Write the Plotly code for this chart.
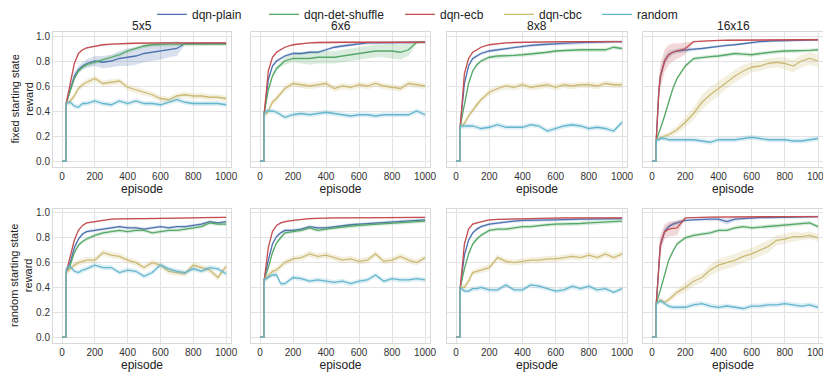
import numpy as np
import plotly.graph_objects as go

EPISODES = [0, 24, 25, 40, 50, 75, 100, 125, 150, 200, 250, 300, 350, 400, 450, 500,
            550, 600, 650, 700, 750, 800, 850, 900, 950, 1000]

SERIES = ["dqn-plain", "dqn-det-shuffle", "dqn-ecb", "dqn-cbc", "random"]
BOARDS = ["5x5", "6x6", "8x8", "16x16"]
ROW_LABELS = ["fixed starting state<br>reward", "random starting state<br>reward"]
X_TICKS = [0, 200, 400, 600, 800, 1000]
Y_TICKS = [0.0, 0.2, 0.4, 0.6, 0.8, 1.0]

# mean reward per episode
FIXED_5X5 = {
    "dqn-plain": [0, 0, .46, .53, .58, .68, .73, .76, .78, .80, .79, .80, .82, .83, .84, .86, .87, .88, .89, .90, .94, .94, .94, .94, .94, .94],
    "dqn-det-shuffle": [0, 0, .46, .52, .56, .66, .72, .75, .77, .79, .81, .83, .85, .88, .90, .92, .93, .935, .935, .935, .935, .935, .935, .935, .935, .935],
    "dqn-ecb": [0, 0, .46, .56, .62, .78, .86, .89, .905, .92, .93, .935, .94, .94, .942, .945, .945, .945, .945, .945, .945, .945, .945, .945, .945, .945],
    "dqn-cbc": [0, 0, .46, .47, .48, .52, .58, .61, .63, .66, .62, .63, .64, .59, .57, .55, .53, .50, .49, .52, .53, .52, .52, .51, .51, .50],
    "random": [0, 0, .46, .47, .47, .44, .43, .46, .46, .48, .46, .45, .48, .46, .48, .46, .46, .45, .47, .49, .47, .46, .46, .46, .46, .45],
}
FIXED_6X6 = {
    "dqn-plain": [0, 0, .38, .55, .65, .76, .80, .82, .84, .86, .86, .87, .87, .89, .91, .92, .93, .94, .945, .945, .945, .945, .947, .948, .95, .95],
    "dqn-det-shuffle": [0, 0, .38, .50, .57, .68, .74, .77, .80, .82, .82, .82, .83, .83, .83, .84, .85, .86, .87, .88, .88, .88, .87, .89, .95, .95],
    "dqn-ecb": [0, 0, .38, .60, .72, .83, .87, .89, .91, .93, .94, .945, .948, .95, .95, .95, .95, .95, .95, .95, .95, .95, .95, .95, .95, .95],
    "dqn-cbc": [0, 0, .37, .38, .40, .47, .50, .54, .58, .62, .61, .60, .61, .62, .58, .60, .59, .61, .60, .62, .60, .59, .58, .62, .61, .60],
    "random": [0, 0, .38, .40, .40, .40, .39, .37, .35, .37, .38, .37, .38, .39, .38, .37, .36, .37, .37, .36, .37, .37, .37, .37, .40, .37],
}
FIXED_8X8 = {
    "dqn-plain": [0, 0, .28, .52, .62, .76, .82, .84, .86, .88, .89, .90, .91, .92, .925, .93, .935, .94, .943, .945, .947, .95, .952, .953, .955, .955],
    "dqn-det-shuffle": [0, 0, .28, .38, .46, .62, .72, .77, .80, .83, .84, .84, .845, .85, .855, .86, .87, .88, .885, .89, .89, .89, .89, .89, .91, .90],
    "dqn-ecb": [0, 0, .28, .58, .70, .82, .87, .89, .91, .93, .94, .945, .948, .95, .952, .953, .955, .955, .955, .955, .955, .955, .955, .955, .955, .955],
    "dqn-cbc": [0, 0, .28, .29, .30, .36, .41, .45, .49, .55, .58, .60, .59, .61, .59, .60, .61, .59, .61, .60, .61, .61, .60, .62, .61, .61],
    "random": [0, 0, .28, .28, .28, .28, .28, .27, .26, .27, .29, .27, .27, .27, .29, .28, .24, .26, .28, .29, .28, .26, .27, .26, .24, .31],
}
FIXED_16X16 = {
    "dqn-plain": [0, 0, .17, .55, .68, .80, .85, .87, .88, .89, .895, .90, .91, .92, .925, .93, .94, .95, .955, .96, .962, .965, .967, .968, .97, .97],
    "dqn-det-shuffle": [0, 0, .17, .22, .26, .36, .48, .58, .66, .76, .82, .83, .835, .84, .85, .86, .855, .85, .86, .87, .875, .88, .88, .88, .885, .89],
    "dqn-ecb": [0, 0, .17, .55, .68, .80, .85, .87, .88, .90, .955, .96, .962, .965, .966, .967, .968, .97, .97, .97, .97, .97, .97, .97, .97, .97],
    "dqn-cbc": [0, 0, .17, .18, .19, .20, .21, .23, .25, .31, .38, .47, .53, .58, .63, .68, .72, .75, .76, .78, .79, .78, .76, .80, .82, .80],
    "random": [0, 0, .17, .17, .18, .18, .17, .17, .17, .17, .17, .16, .15, .17, .17, .17, .18, .19, .18, .17, .17, .17, .16, .16, .17, .18],
}
RANDOM_5X5 = {
    "dqn-plain": [0, 0, .52, .56, .60, .72, .79, .83, .85, .86, .87, .88, .89, .88, .88, .87, .88, .89, .88, .89, .89, .90, .91, .93, .92, .93],
    "dqn-det-shuffle": [0, 0, .52, .55, .58, .68, .74, .77, .79, .82, .84, .85, .86, .85, .86, .86, .84, .85, .86, .86, .87, .88, .89, .92, .91, .91],
    "dqn-ecb": [0, 0, .52, .60, .65, .78, .86, .90, .92, .93, .94, .95, .952, .955, .955, .955, .955, .955, .957, .958, .96, .96, .962, .963, .965, .965],
    "dqn-cbc": [0, 0, .52, .54, .55, .58, .60, .61, .62, .62, .68, .66, .65, .62, .60, .56, .60, .58, .53, .52, .51, .58, .56, .54, .48, .57],
    "random": [0, 0, .55, .57, .57, .53, .52, .54, .55, .58, .56, .56, .52, .54, .53, .49, .52, .58, .55, .53, .52, .55, .53, .56, .55, .51],
}
RANDOM_6X6 = {
    "dqn-plain": [0, 0, .46, .56, .62, .75, .81, .84, .86, .86, .87, .89, .88, .88, .89, .90, .905, .91, .915, .92, .925, .93, .935, .94, .942, .945],
    "dqn-det-shuffle": [0, 0, .46, .52, .56, .68, .76, .80, .84, .85, .86, .88, .86, .87, .88, .89, .895, .90, .905, .91, .915, .92, .925, .93, .932, .935],
    "dqn-ecb": [0, 0, .46, .62, .72, .85, .90, .92, .93, .94, .95, .955, .957, .96, .96, .96, .96, .96, .961, .962, .963, .963, .964, .965, .965, .965],
    "dqn-cbc": [0, 0, .46, .48, .50, .53, .54, .57, .60, .63, .64, .67, .65, .66, .64, .62, .63, .61, .62, .67, .61, .62, .65, .62, .60, .64],
    "random": [0, 0, .46, .47, .48, .50, .50, .43, .43, .48, .47, .45, .46, .45, .44, .45, .43, .45, .46, .50, .45, .47, .46, .46, .47, .46],
}
RANDOM_8X8 = {
    "dqn-plain": [0, 0, .40, .58, .66, .78, .84, .87, .89, .91, .92, .93, .935, .94, .94, .94, .943, .945, .947, .95, .95, .95, .952, .953, .955, .955],
    "dqn-det-shuffle": [0, 0, .40, .50, .55, .67, .75, .79, .82, .86, .87, .87, .88, .89, .89, .90, .905, .91, .91, .91, .915, .92, .925, .93, .932, .935],
    "dqn-ecb": [0, 0, .40, .64, .75, .87, .91, .92, .93, .945, .948, .95, .952, .955, .957, .958, .96, .96, .96, .96, .96, .96, .96, .96, .96, .96],
    "dqn-cbc": [0, 0, .40, .40, .40, .45, .52, .53, .54, .56, .64, .61, .60, .61, .62, .62, .63, .63, .64, .65, .64, .66, .64, .67, .64, .67],
    "random": [0, 0, .40, .38, .37, .37, .39, .39, .40, .38, .38, .42, .38, .38, .42, .41, .39, .37, .38, .41, .39, .41, .38, .39, .36, .39],
}
RANDOM_16X16 = {
    "dqn-plain": [0, 0, .27, .60, .74, .85, .89, .91, .92, .94, .945, .95, .95, .95, .93, .95, .955, .96, .962, .963, .964, .965, .967, .968, .97, .97],
    "dqn-det-shuffle": [0, 0, .27, .33, .38, .50, .62, .69, .75, .80, .82, .83, .84, .86, .86, .88, .89, .88, .885, .89, .895, .90, .905, .91, .92, .89],
    "dqn-ecb": [0, 0, .27, .60, .75, .85, .87, .875, .88, .96, .965, .965, .967, .968, .97, .97, .97, .97, .97, .97, .97, .97, .97, .97, .97, .97],
    "dqn-cbc": [0, 0, .27, .29, .30, .28, .30, .33, .36, .40, .45, .48, .54, .58, .60, .62, .65, .67, .70, .73, .78, .79, .81, .81, .82, .80],
    "random": [0, 0, .27, .28, .29, .27, .25, .24, .24, .24, .26, .27, .25, .24, .25, .24, .23, .25, .25, .26, .26, .27, .26, .25, .26, .24],
}
PANELS = [FIXED_5X5, FIXED_6X6, FIXED_8X8, FIXED_16X16,
          RANDOM_5X5, RANDOM_6X6, RANDOM_8X8, RANDOM_16X16]

# half width of the shaded band (typical spread per method)
SPREAD = {"dqn-plain": .012, "dqn-det-shuffle": .015, "dqn-ecb": .006, "dqn-cbc": .025, "random": .02}
# wider bands where the runs disagree a lot (panel index, method)
BAND_OVERRIDES = {
    (0, "dqn-plain"): [0, 0, 0, .02, .02, .03, .03, .03, .035, .04, .05, .05, .06, .07, .07, .07, .07, .07, .06, .06, .005, .005, .005, .005, .005, .005],
    (1, "dqn-det-shuffle"): [0, 0, 0, .02, .02, .02, .02, .02, .03, .03, .04, .05, .05, .05, .05, .05, .05, .05, .05, .05, .05, .06, .06, .05, .01, .01],
    (3, "dqn-plain"): [0, 0, 0, .06, .05, .04, .03, .02, .02, .02, .01, .01, .01, .01, .01, .01, .01, .01, .01, .01, .01, .01, .01, .01, .01, .01],
    (3, "dqn-ecb"): [0, 0, 0, .1, .1, .09, .08, .07, .06, .05, .005, .005, .005, .005, .005, .005, .005, .005, .005, .005, .005, .005, .005, .005, .005, .005],
    (3, "dqn-cbc"): [0, 0, 0, .02, .02, .02, .02, .03, .03, .04, .05, .06, .06, .06, .05, .05, .05, .04, .04, .04, .04, .05, .05, .05, .05, .05],
    (7, "dqn-plain"): [0, 0, 0, .05, .04, .03, .02, .02, .02, .01, .01, .01, .01, .015, .025, .015, .01, .01, .01, .01, .01, .01, .01, .01, .01, .01],
    (7, "dqn-ecb"): [0, 0, 0, .08, .07, .06, .06, .06, .06, .005, .005, .005, .005, .005, .005, .005, .005, .005, .005, .005, .005, .005, .005, .005, .005, .005],
    (7, "dqn-cbc"): [0, 0, 0, .02, .02, .02, .02, .03, .03, .04, .04, .04, .045, .05, .05, .05, .05, .05, .05, .05, .04, .04, .04, .03, .03, .03],
}

COLORS = {
    "dqn-plain": "#4C72B0",
    "dqn-det-shuffle": "#55A868",
    "dqn-ecb": "#C44E52",
    "dqn-cbc": "#CCB974",
    "random": "#64B5CD",
}

# the page body keeps its 8px default margin, so the figure starts at (8, 8)
OFF = 8
W, H = 831 - OFF, 378 - OFF
COL_PX = [(53, 231), (251, 430), (447, 627), (643, 823)]
ROW_PX = [(32, 167), (209, 343)]
# where each legend label starts on the page
LEGEND_TEXT_PX = [188, 300, 436, 535, 633]


def px_x(v):
    return (v - OFF) / W


def px_y(v):
    return 1 - (v - OFF) / H


def rgba(hex_color, alpha):
    h = hex_color.lstrip("#")
    r, g, b = (int(h[i:i + 2], 16) for i in (0, 2, 4))
    return f"rgba({r},{g},{b},{alpha})"


def band_for(panel_idx, name, x):
    if (panel_idx, name) in BAND_OVERRIDES:
        return np.asarray(BAND_OVERRIDES[(panel_idx, name)], dtype=float)
    return np.where(x < 25, 0.0, SPREAD[name])


def legend_key(k):
    return "legend" if k == 0 else f"legend{k + 1}"


fig = go.Figure()
x = np.asarray(EPISODES, dtype=float)

for i, panel in enumerate(PANELS):
    ax = "" if i == 0 else str(i + 1)
    for k, name in enumerate(SERIES):
        y = np.asarray(panel[name], dtype=float)
        half = band_for(i, name, x)
        lo, hi = y - half, y + half
        fig.add_trace(go.Scatter(
            x=np.concatenate([x, x[::-1]]), y=np.concatenate([hi, lo[::-1]]),
            fill="toself", fillcolor=rgba(COLORS[name], 0.22), line=dict(width=0),
            hoverinfo="skip", showlegend=False, xaxis="x" + ax, yaxis="y" + ax,
        ))
        fig.add_trace(go.Scatter(
            x=x, y=y, mode="lines", name=name, legend=legend_key(k),
            line=dict(color=COLORS[name], width=1.3),
            showlegend=(i == 0), xaxis="x" + ax, yaxis="y" + ax,
        ))

axis_style = dict(
    showgrid=True, gridcolor="#E3E3E3", gridwidth=1,
    showline=True, linecolor="#D9D9D9", linewidth=1, mirror=True,
    zeroline=False, ticks="", tickfont=dict(size=10, color="#333333"),
    automargin=False,
)

layout = {}
annotations = []
for i in range(8):
    r, c = divmod(i, 4)
    ax = "" if i == 0 else str(i + 1)
    x0, x1 = COL_PX[c]
    y0, y1 = ROW_PX[r]
    layout["xaxis" + ax] = dict(
        axis_style, domain=[px_x(x0), px_x(x1)], range=[-55, 1030], tickvals=X_TICKS,
        anchor="y" + ax,
        title=dict(text="episode", font=dict(size=12, color="#222222"), standoff=3),
    )
    layout["yaxis" + ax] = dict(
        axis_style, domain=[px_y(y1), px_y(y0)], range=[-0.048, 1.032],
        tickvals=Y_TICKS, tickformat=".1f", showticklabels=(c == 0), anchor="x" + ax,
    )
    if r == 0:
        annotations.append(dict(
            text=BOARDS[c], x=px_x((x0 + x1) / 2), y=px_y(y0), xref="paper", yref="paper",
            xanchor="center", yanchor="bottom", yshift=-3, showarrow=False,
            font=dict(size=12, color="#222222"),
        ))
    if c == 0:
        # row label, drawn as rotated text left of the tick labels
        annotations.append(dict(
            text=ROW_LABELS[r], x=px_x(21), y=px_y((y0 + y1) / 2), xref="paper", yref="paper",
            xanchor="center", yanchor="middle", textangle=-90, showarrow=False,
            font=dict(size=11, color="#222222"),
        ))

for k, text_x in enumerate(LEGEND_TEXT_PX):
    layout[legend_key(k)] = dict(
        orientation="h", x=px_x(text_x - 36), xanchor="left", y=1.022, yanchor="top",
        font=dict(size=12, color="#222222"), bgcolor="rgba(0,0,0,0)", itemwidth=30,
    )

fig.update_layout(
    **layout,
    annotations=annotations,
    width=W, height=H,
    margin=dict(l=0, r=0, t=0, b=0, autoexpand=False),
    paper_bgcolor="white", plot_bgcolor="white",
    font=dict(family="Liberation Sans, Arial, sans-serif", color="#222222"),
)

fig.write_html("out.html")
